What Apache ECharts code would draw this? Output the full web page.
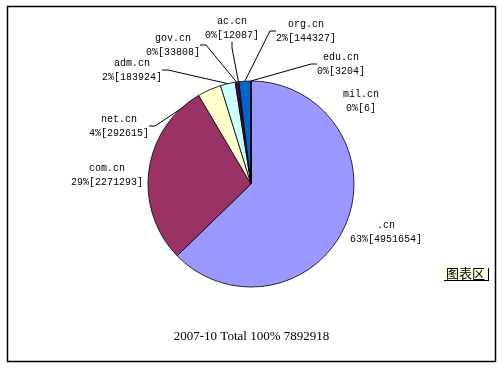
<!DOCTYPE html>
<html><head><meta charset="utf-8">
<script src="https://cdn.jsdelivr.net/npm/echarts@6/dist/echarts.min.js"></script>
<style>html,body{margin:0;padding:0;background:#fff}#c{width:503px;height:369px}</style>
</head><body><div id="c"></div><script>
// ---- data ----
const categories = ['.cn', 'com.cn', 'net.cn', 'adm.cn', 'gov.cn', 'ac.cn', 'org.cn', 'edu.cn', 'mil.cn'];
const values = [4951654, 2271293, 292615, 183924, 33808, 12087, 144327, 3204, 6];
const period = '2007-10';

// ---- style / layout ----
const colors = ['#9999FF', '#993366', '#FFFFCC', '#CCFFFF', '#660066', '#FF8080', '#0066CC', '#CCCCFF', '#000080'];
const labelPos = [[386, 232], [107, 175], [119, 126], [132, 70], [173, 45], [232, 28], [306, 31], [341, 64], [361, 101]];
const showLine = [false, false, true, true, true, true, true, true, false];

const total = values.reduce((a, b) => a + b, 0);
const chart = echarts.init(document.getElementById('c'), null, {renderer: 'canvas'});
const monoFont = '"Liberation Mono", "DejaVu Sans Mono", monospace';

chart.setOption({
  backgroundColor: '#ffffff',
  animation: false,
  graphic: [
    {type: 'rect', shape: {x: 7.5, y: 6.5, width: 488, height: 355}, style: {fill: 'none', stroke: '#000', lineWidth: 1.5}, z: 100},
    {type: 'text', left: 443, top: 267, z: 101,
     style: {text: '图表区', fill: '#000', font: '13px "Noto Sans CJK SC"', backgroundColor: '#FFFFE1',
             padding: [0, 3, 0, 3], borderColor: '#000', borderWidth: 0, shadowColor: '#000', shadowOffsetX: 1, shadowOffsetY: 1}}
  ],
  title: {
    text: period + ' Total 100% ' + total,
    left: 'center', top: 325,
    textStyle: {fontFamily: '"Liberation Serif", serif', fontSize: 13, fontWeight: 'normal', color: '#000'}
  },
  series: [{
    type: 'pie',
    center: [251, 184],
    radius: 103,
    startAngle: 90,
    clockwise: true,
    avoidLabelOverlap: false,
    percentPrecision: 0,
    itemStyle: {borderColor: '#000', borderWidth: 0.8},
    label: {
      show: true,
      position: 'outside',
      formatter: p => p.name + '\n' + Math.round(p.percent) + '%[' + p.value + ']',
      fontFamily: monoFont, fontSize: 10, lineHeight: 14, color: '#000', align: 'center'
    },
    labelLine: {show: true, length: 10, length2: 6, smooth: false, lineStyle: {color: '#000', width: 1}},
    labelLayout: p => ({x: labelPos[p.dataIndex][0], y: labelPos[p.dataIndex][1], align: 'center', verticalAlign: 'middle'}),
    data: categories.map((n, i) => ({
      name: n, value: values[i],
      itemStyle: {color: colors[i]},
      labelLine: {show: showLine[i]}
    }))
  }]
});
</script></body></html>
